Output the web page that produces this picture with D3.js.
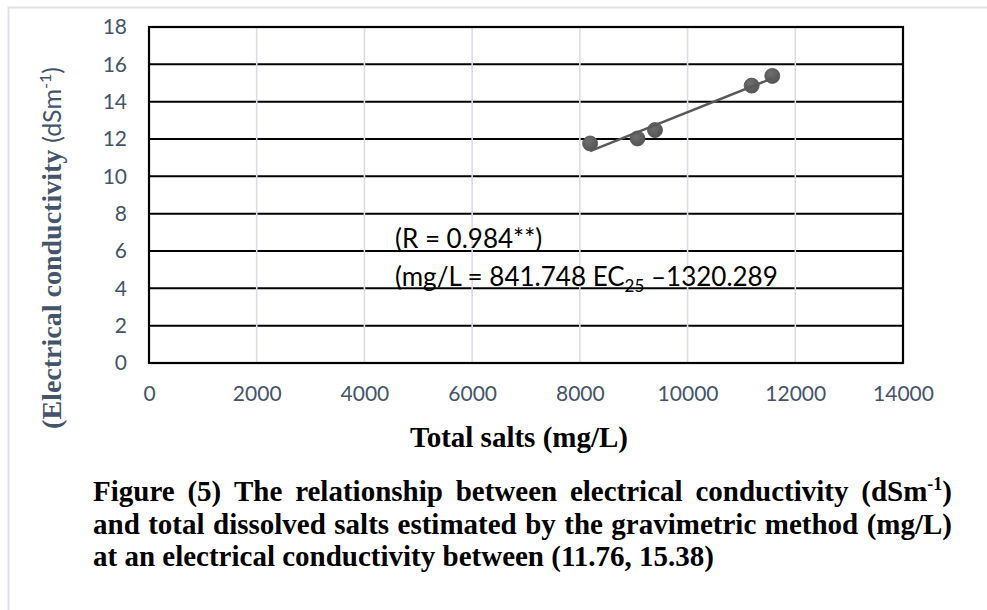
<!DOCTYPE html>
<html><head><meta charset="utf-8">
<script src="https://cdn.jsdelivr.net/npm/d3@7"></script>
<style>body{margin:0;background:#fff}svg{display:block}</style>
</head><body>
<svg id="c" width="987" height="610"></svg>
<script>
// ---- data ----
const tdsValues = [8190, 9070, 9395, 11190, 11573];   // Total salts (mg/L)
const ecValues  = [11.76, 12.03, 12.48, 14.86, 15.38]; // EC (dSm-1)
const xTickValues = [0, 2000, 4000, 6000, 8000, 10000, 12000, 14000];
const yTickValues = [0, 2, 4, 6, 8, 10, 12, 14, 16, 18];
const xTitle = "Total salts (mg/L)";
const yTitleBold = "(Electrical conductivity ";
const yTitleUnit = ["(dSm", "-1", ")"];
const annotR = "(R = 0.984**)";
const annotEq = ["(mg/L = 841.748 EC", "25", " \u20131320.289"];
const captionLine1 = ["Figure", "(5)", "The", "relationship", "between", "electrical", "conductivity", ["(dSm", "-1", ")"]];
const captionLine2 = ["and", "total", "dissolved", "salts", "estimated", "by", "the", "gravimetric", "method", "(mg/L)"];
const captionLine3 = "at an electrical conductivity between (11.76, 15.38)";

// ---- setup ----
const svg = d3.select("#c");
const W = 987, H = 610;
const plot = {left: 149, right: 903, top: 27, bottom: 363};
const slate = "#44546a";
const serif = "'Liberation Serif','Times New Roman',serif";
const sans = "Lato,'Open Sans',sans-serif";

// outer frame
svg.append("path").attr("d", `M8.5,${H} V7.5 H${W}`).attr("fill","none").attr("stroke","#dde1e7").attr("stroke-width",2);

const x = d3.scaleLinear().domain([0, 14000]).range([plot.left, plot.right]);
const y = d3.scaleLinear().domain([0, 18]).range([plot.bottom, plot.top]);

// horizontal gridlines (black)
svg.append("g").selectAll("line").data(yTickValues).join("line")
  .attr("x1", plot.left).attr("x2", plot.right)
  .attr("y1", d => y(d)).attr("y2", d => y(d))
  .attr("stroke", "#000").attr("stroke-width", 2);
// vertical gridlines (light gray), drawn over
svg.append("g").selectAll("line").data(xTickValues.slice(1, -1)).join("line")
  .attr("x1", d => x(d)).attr("x2", d => x(d))
  .attr("y1", plot.top + 1).attr("y2", plot.bottom - 1)
  .attr("stroke", "#d9dde4").attr("stroke-width", 1.6);
// plot border
svg.append("rect").attr("x", plot.left).attr("y", plot.top)
  .attr("width", plot.right - plot.left).attr("height", plot.bottom - plot.top)
  .attr("fill", "none").attr("stroke", "#000").attr("stroke-width", 2.2);

// axes (labels only)
const xAxis = svg.append("g").attr("transform", `translate(0,${plot.bottom + 23})`)
  .call(d3.axisBottom(x).tickValues(xTickValues).tickSize(0).tickPadding(0).tickFormat(d3.format("d")));
const yAxis = svg.append("g").attr("transform", `translate(${plot.left - 22},0)`)
  .call(d3.axisLeft(y).tickValues(yTickValues).tickSize(0).tickPadding(0).tickFormat(d3.format("d")));
[xAxis, yAxis].forEach(a => {
  a.select(".domain").remove();
  a.selectAll("text").attr("font-family", sans).attr("font-size", 21).attr("fill", slate);
});
xAxis.selectAll("text").attr("dy", "0.71em");

// markers
const defs = svg.append("defs");
const grad = defs.append("radialGradient").attr("id", "mk").attr("cx", "40%").attr("cy", "35%").attr("r", "65%");
grad.append("stop").attr("offset", "0%").attr("stop-color", "#6e6e6e");
grad.append("stop").attr("offset", "100%").attr("stop-color", "#555555");
const pts = tdsValues.map((v, i) => ({x: v, y: ecValues[i]}));
svg.append("g").selectAll("circle").data(pts).join("circle")
  .attr("cx", d => x(d.x)).attr("cy", d => y(d.y)).attr("r", 7.5)
  .attr("fill", "url(#mk)").attr("stroke", "#505050").attr("stroke-width", 0.8);

// linear trend line (least squares)
const mx = d3.mean(tdsValues), my = d3.mean(ecValues);
const slope = d3.sum(pts, d => (d.x - mx) * (d.y - my)) / d3.sum(pts, d => (d.x - mx) ** 2);
const icpt = my - slope * mx;
const [x0, x1] = d3.extent(tdsValues);
svg.append("path").datum([x0, x1])
  .attr("d", d3.line().x(d => x(d)).y(d => y(icpt + slope * d)))
  .attr("stroke", "#595959").attr("stroke-width", 2.5).attr("fill", "none");

// annotations
svg.append("text").attr("x", 395).attr("y", 248).attr("font-family", sans).attr("font-size", 26).attr("fill", "#000").text(annotR);
const eq = svg.append("text").attr("x", 395).attr("y", 286).attr("font-family", sans).attr("font-size", 26).attr("fill", "#000");
eq.append("tspan").text(annotEq[0]);
eq.append("tspan").attr("font-size", 17).attr("dy", 6).text(annotEq[1]);
eq.append("tspan").attr("dy", -6).text(annotEq[2]);

// x title
svg.append("text").attr("x", (plot.left + plot.right) / 2 - 7).attr("y", 447)
  .attr("text-anchor", "middle").attr("font-family", serif).attr("font-weight", "bold")
  .attr("font-size", 29).attr("fill", "#000").text(xTitle);

// y title
const yt = svg.append("text").attr("transform", "translate(61,248) rotate(-90)")
  .attr("text-anchor", "middle").attr("fill", slate);
yt.append("tspan").attr("font-family", serif).attr("font-weight", "bold").attr("font-size", 28).text(yTitleBold);
yt.append("tspan").attr("font-family", sans).attr("font-size", 25).text(yTitleUnit[0]);
yt.append("tspan").attr("font-family", sans).attr("font-size", 16).attr("dy", -10).text(yTitleUnit[1]);
yt.append("tspan").attr("font-family", sans).attr("font-size", 25).attr("dy", 10).text(yTitleUnit[2]);

// caption
const capX0 = 93, capX1 = 952, capSize = 29;
function justifiedLine(words, baseline) {
  const g = svg.append("g");
  const nodes = words.map(w => {
    const t = g.append("text").attr("y", baseline).attr("font-family", serif)
      .attr("font-weight", "bold").attr("font-size", capSize).attr("fill", "#000");
    if (Array.isArray(w)) {
      t.append("tspan").text(w[0]);
      t.append("tspan").attr("font-size", 18).attr("dy", -11).text(w[1]);
      t.append("tspan").attr("dy", 11).text(w[2]);
    } else t.text(w);
    return t;
  });
  const widths = nodes.map(n => n.node().getComputedTextLength());
  const gap = (capX1 - capX0 - d3.sum(widths)) / (words.length - 1);
  let cx = capX0;
  nodes.forEach((n, i) => { n.attr("x", cx); cx += widths[i] + gap; });
}
justifiedLine(captionLine1, 501);
justifiedLine(captionLine2, 534);
svg.append("text").attr("x", capX0).attr("y", 566).attr("font-family", serif)
  .attr("font-weight", "bold").attr("font-size", capSize).attr("fill", "#000").text(captionLine3);
</script>
</body></html>
